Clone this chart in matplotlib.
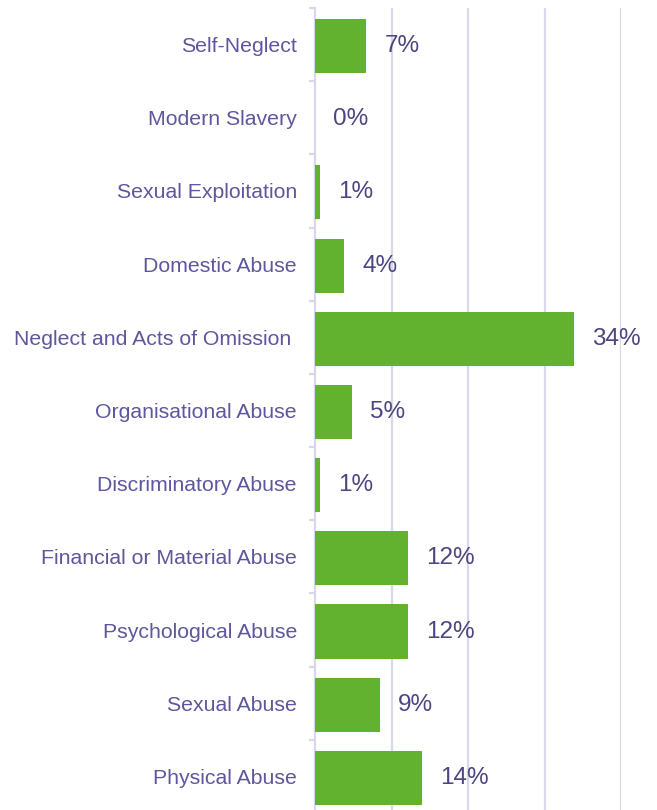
import numpy as np
import matplotlib.pyplot as plt
from matplotlib.ticker import FixedLocator

plt.rcParams['font.family'] = ['Liberation Sans', 'DejaVu Sans']

categories = ['Self-Neglect', 'Modern Slavery', 'Sexual Exploitation', 'Domestic Abuse',
              'Neglect and Acts of Omission ', 'Organisational Abuse', 'Discriminatory Abuse',
              'Financial or Material Abuse', 'Psychological Abuse', 'Sexual Abuse',
              'Physical Abuse']
values = [6.7, 0.0, 0.65, 3.8, 33.9, 4.8, 0.65, 12.2, 12.2, 8.5, 14.0]
labels = ['7%', '0%', '1%', '4%', '34%', '5%', '1%', '12%', '12%', '9%', '14%']

green = '#63b22f'
grid_col = '#d9d7ea'
cat_col = '#5d579e'
val_col = '#4b4682'

fig = plt.figure(figsize=(6.57, 8.10), dpi=100)
# axes runs a few px past the bottom edge, like the original
ax = fig.add_axes([315/657, -3/810, (621-315)/657, 805/810])

y = np.arange(len(categories))
ax.barh(y + 0.02, values, height=0.74, color=green, zorder=3)

for yi, v, lab in zip(y, values, labels):
    ax.annotate(lab, (v, yi + 0.02), xytext=(18, 0), textcoords='offset pixels',
                va='center', ha='left', fontsize=17.5, color=val_col,
                annotation_clip=False, zorder=4)

ax.set_xlim(0, 40)
ax.set_ylim(len(categories) - 0.5, -0.5)
ax.set_xticks([10, 20, 30, 40])
ax.xaxis.grid(True, color=grid_col, linewidth=1.6, zorder=0)
ax.tick_params(axis='x', bottom=False, labelbottom=False)

ax.set_yticks(y)
ax.set_yticklabels(categories, fontsize=15.3, color=cat_col)
ax.tick_params(axis='y', which='major', length=0, pad=13)
ax.yaxis.set_minor_locator(FixedLocator(np.arange(-0.5, len(categories), 1)))
ax.tick_params(axis='y', which='minor', length=4, color=grid_col, width=1.6)

for s in ['top', 'right', 'bottom']:
    ax.spines[s].set_visible(False)
ax.spines['left'].set_color(grid_col)
ax.spines['left'].set_linewidth(1.6)

fig.savefig('out.png', dpi=100)
